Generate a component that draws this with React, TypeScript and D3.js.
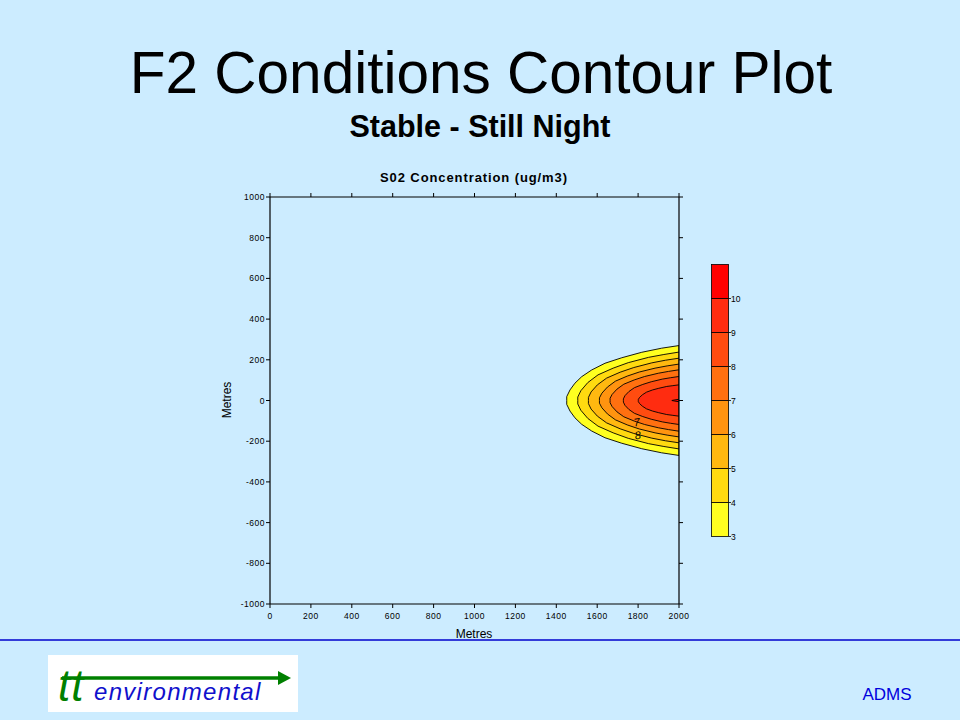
import React from "react";
import * as d3 from "d3";

// ---- data ----
const xTicks = [0, 200, 400, 600, 800, 1000, 1200, 1400, 1600, 1800, 2000];
const yTicks = [-1000, -800, -600, -400, -200, 0, 200, 400, 600, 800, 1000];
const contourLevels = [3, 4, 5, 6, 7, 8, 9, 10];
// x positions (m) along each contour's upper half, and half-width (m) at those x
const contourXs = [
  [1451, 1451, 1467, 1491, 1524, 1573, 1638, 1720, 1818, 1915, 2000],
  [1505, 1505, 1520, 1554, 1604, 1678, 1752, 1851, 1926, 2000],
  [1557, 1557, 1570, 1601, 1646, 1712, 1779, 1867, 1934, 2000],
  [1611, 1611, 1623, 1650, 1689, 1747, 1806, 1883, 1942, 2000],
  [1663, 1663, 1673, 1697, 1730, 1781, 1832, 1899, 1949, 2000],
  [1728, 1728, 1736, 1755, 1782, 1823, 1864, 1918, 1959, 2000],
  [1801, 1801, 1807, 1821, 1841, 1871, 1901, 1940, 1970, 2000],
  [1965, 1980, 2000],
];
const contourHalfWidths = [
  [0, 19, 52, 85, 117, 150, 183, 210, 237, 257, 270],
  [0, 17, 48, 88, 126, 159, 186, 212, 226, 238],
  [0, 15, 42, 77, 110, 139, 162, 185, 198, 208],
  [0, 13, 36, 66, 95, 120, 140, 159, 170, 179],
  [0, 11, 30, 56, 80, 101, 118, 134, 143, 151],
  [0, 8, 24, 44, 63, 79, 92, 105, 112, 118],
  [0, 5, 15, 28, 41, 52, 60, 69, 73, 77],
  [0, 3, 6],
];
const bandColors = ["#FFFF20", "#FFDA10", "#FFB810", "#FF9410", "#FF7010", "#FF4C10", "#FF2C10", "#FF0000"];
const contourLabelText = ["7", "8"];
const contourLabelX = [1793, 1798];
const contourLabelY = [-106, -170];

// ---- layout ----
const W = 960, H = 720;
const bg = "#CCECFF";
const xScale = d3.scaleLinear().domain([0, 2000]).range([270, 679]);
const yScale = d3.scaleLinear().domain([-1000, 1000]).range([604, 197]);
const cbScale = d3.scaleLinear().domain([3, 11]).range([536.5, 264.5]);
const font = "'Liberation Sans', Arial, sans-serif";

export default function App() {
  const line = d3
    .line<[number, number]>()
    .x((d) => xScale(d[0]))
    .y((d) => yScale(d[1]));

  const paths = contourLevels.map((lv, i) => {
    const xs = contourXs[i];
    const ws = contourHalfWidths[i];
    const upper: [number, number][] = xs.map((x, j) => [x, ws[j]]);
    const lower: [number, number][] = xs.map((x, j) => [x, -ws[j]] as [number, number]).reverse();
    return { lv, d: line([...upper, ...lower]) + "Z", color: bandColors[i] };
  });

  const x0 = xScale(0), x1 = xScale(2000), y0 = yScale(-1000), y1 = yScale(1000);
  const tk = 4;

  return (
    <svg width={W} height={H} style={{ position: "absolute", left: 0, top: 0, display: "block" }} fontFamily={font}>
      <rect x={0} y={0} width={W} height={H} fill={bg} />
      <text x={481} y={93} textAnchor="middle" fontSize={58.5} fill="#000">F2 Conditions Contour Plot</text>
      <text x={480} y={137} textAnchor="middle" fontSize={30.5} fontWeight="bold" fill="#000">Stable - Still Night</text>

      <text x={474} y={182} textAnchor="middle" fontSize={13} fontWeight="bold" letterSpacing={0.9} fill="#000">S02 Concentration (ug/m3)</text>

      <defs>
        <clipPath id="plotclip">
          <rect x={x0} y={y1} width={x1 - x0} height={y0 - y1} />
        </clipPath>
      </defs>
      <g clipPath="url(#plotclip)">
        {paths.map((p) => (
          <path key={p.lv} d={p.d} fill={p.color} stroke="#000" strokeWidth={0.9} />
        ))}
      </g>
      {contourLabelText.map((t, i) => (
        <text key={t} x={xScale(contourLabelX[i])} y={yScale(contourLabelY[i]) + 4} fontSize={11} fontStyle="italic" textAnchor="middle" fill="#000" transform={`rotate(-8 ${xScale(contourLabelX[i])} ${yScale(contourLabelY[i])})`}>{t}</text>
      ))}

      {/* frame */}
      <g stroke="#000" strokeWidth={1.2} fill="none">
        <line x1={x0} y1={y1} x2={x1} y2={y1} />
        <line x1={x0} y1={y0} x2={x1} y2={y0} />
        <line x1={x0} y1={y1} x2={x0} y2={y0} />
        <line x1={x1} y1={y1} x2={x1} y2={y0} />
      </g>
      <g stroke="#000" strokeWidth={1}>
        {xTicks.map((t) => (
          <g key={"x" + t}>
            <line x1={xScale(t)} x2={xScale(t)} y1={y0} y2={y0 + tk} />
            <line x1={xScale(t)} x2={xScale(t)} y1={y1} y2={y1 - tk} />
          </g>
        ))}
        {yTicks.map((t) => (
          <g key={"y" + t}>
            <line x1={x0} x2={x0 - tk} y1={yScale(t)} y2={yScale(t)} />
            <line x1={x1} x2={x1 + tk} y1={yScale(t)} y2={yScale(t)} />
          </g>
        ))}
      </g>
      <g fontSize={8.5} fill="#000" letterSpacing={0.5}>
        {xTicks.map((t) => (
          <text key={"xl" + t} x={xScale(t)} y={y0 + 15} textAnchor="middle">{t}</text>
        ))}
        {yTicks.map((t) => (
          <text key={"yl" + t} x={x0 - 5} y={yScale(t) + 3} textAnchor="end">{t}</text>
        ))}
      </g>
      <text x={474} y={638} textAnchor="middle" fontSize={12} fill="#000">Metres</text>
      <text transform="translate(231,400) rotate(-90)" textAnchor="middle" fontSize={12} fill="#000">Metres</text>

      {/* colour bar */}
      {bandColors.map((c, i) => (
        <rect key={"cb" + i} x={711.5} y={cbScale(contourLevels[i] + 1)} width={17} height={cbScale(contourLevels[i]) - cbScale(contourLevels[i] + 1)} fill={c} stroke="#000" strokeWidth={0.8} />
      ))}
      {contourLevels.map((lv) => (
        <g key={"cbl" + lv}>
          <line x1={728.5} x2={731} y1={cbScale(lv)} y2={cbScale(lv)} stroke="#000" strokeWidth={0.8} />
          <text x={731} y={cbScale(lv) + 3} fontSize={8.5} fill="#000">{lv}</text>
        </g>
      ))}

      {/* footer */}
      <line x1={0} x2={W} y1={640} y2={640} stroke="#0000CC" strokeWidth={1.5} />
      <rect x={48} y={655} width={250} height={57} fill="#FFFFFF" />
      <line x1={62} x2={280} y1={678} y2={678} stroke="#008000" strokeWidth={3.5} />
      <path d="M278,671 L291,678 L278,685 Z" fill="#008000" />
      <text x={58} y={701} fontSize={44} fontStyle="italic" fill="#008000" letterSpacing={1}>tt</text>
      <text x={94} y={700} fontSize={24} fontStyle="italic" fill="#1010CC" letterSpacing={1.3}>environmental</text>
      <text x={887} y={700} textAnchor="middle" fontSize={17} fill="#0000DD">ADMS</text>
    </svg>
  );
}
